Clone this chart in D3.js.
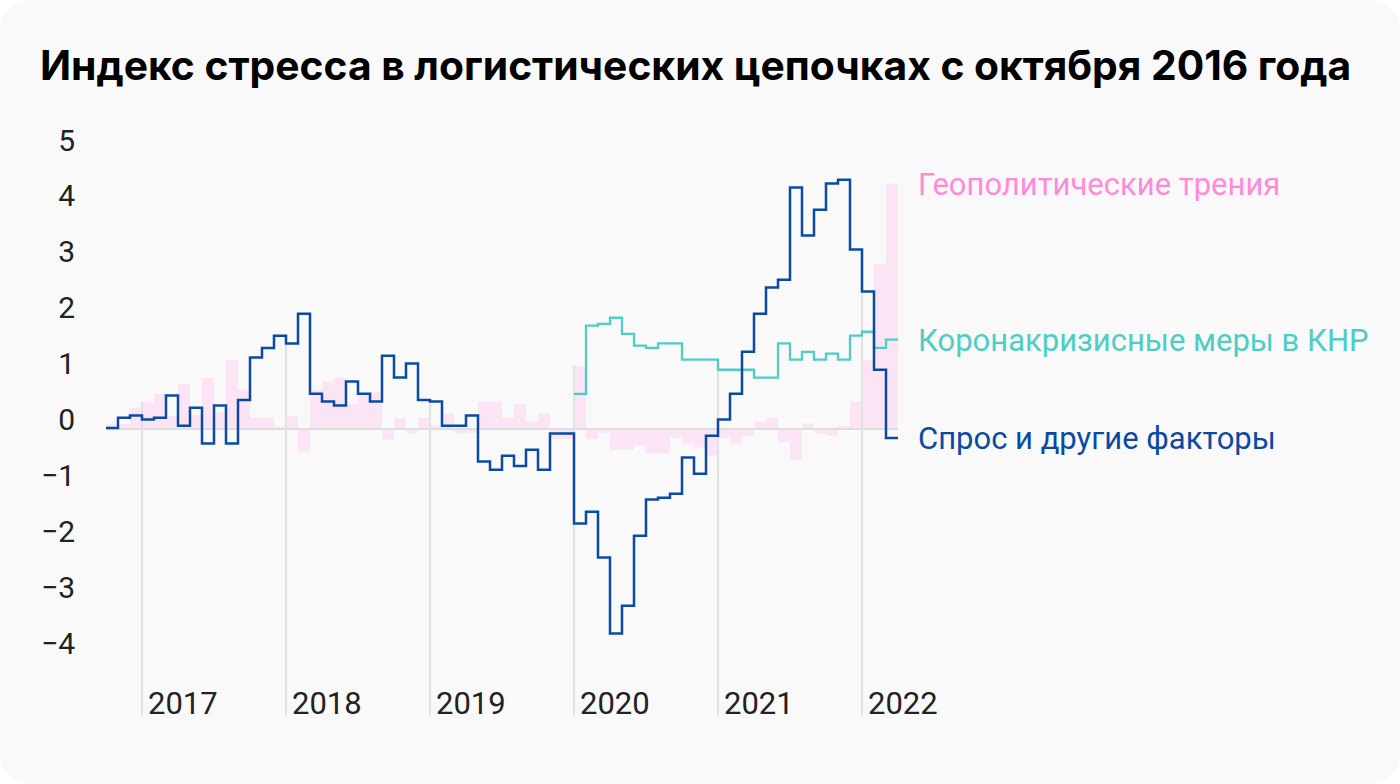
<!DOCTYPE html>
<html><head><meta charset="utf-8">
<script src="https://cdn.jsdelivr.net/npm/d3@7/dist/d3.min.js"></script>
<style>
html,body{margin:0;padding:0;background:#ffffff;}
svg{display:block;}
</style></head>
<body>
<svg id="chart" width="1400" height="784"></svg>
<script>
// ---- data (monthly, Oct 2016 .. Mar 2022) ----
const startMonth = "2016-10";
const yearTicks = ["2017","2018","2019","2020","2021","2022"];
const yTicks = [-4,-3,-2,-1,0,1,2,3,4,5];

const demand = [0.02,0.20,0.24,0.17,0.20,0.60,0.06,0.38,-0.26,0.42,-0.26,0.52,
  1.28,1.45,1.67,1.53,2.06,0.63,0.49,0.42,0.85,0.63,0.49,1.31,
  0.92,1.17,0.52,0.49,0.06,0.06,0.24,-0.58,-0.73,-0.48,-0.66,-0.37,
  -0.73,-0.08,-0.08,-1.69,-1.48,-2.30,-3.66,-3.16,-1.91,-1.26,-1.23,-1.16,
  -0.51,-0.80,-0.12,0.17,0.63,1.38,2.06,2.53,2.67,4.32,3.46,3.92,
  4.39,4.46,3.21,2.46,1.06,-0.16];

const covidStart = "2020-01";
const covid = [0.63,1.85,1.88,1.99,1.70,1.49,1.45,1.53,1.53,1.24,1.24,1.24,
  1.06,1.06,1.06,0.92,0.92,1.53,1.24,1.38,1.24,1.35,1.24,1.67,1.74,1.45,1.60];

const geo = [0.09,0.09,0.38,0.48,0.63,0.23,0.80,0.25,0.91,0.30,1.23,0.70,
  0.20,0.20,0.05,0.23,-0.40,0.70,0.85,0.92,0.45,0.60,0.67,-0.19,
  0.20,-0.08,0.20,0.06,0.27,-0.08,-0.07,0.49,0.49,0.20,0.45,0.13,
  0.27,-0.18,-0.18,1.13,-0.18,-0.07,-0.37,-0.37,-0.30,-0.44,-0.44,-0.16,
  -0.26,-0.33,-0.47,-0.16,-0.26,-0.12,0.13,0.20,-0.23,-0.55,0.10,-0.08,
  -0.12,0.06,0.49,1.24,2.96,4.39];

const seriesNames = ["Геополитические трения","Коронакризисные меры в КНР","Спрос и другие факторы"];
const title = "Индекс стресса в логистических цепочках с октября 2016 года";

// ---- helpers ----
function monthIndex(ym){
  const [y,m] = ym.split("-").map(Number);
  const [y0,m0] = startMonth.split("-").map(Number);
  return (y-y0)*12 + (m-m0);
}
const nMonths = demand.length;
const covidOffset = monthIndex(covidStart);

const svg = d3.select("#chart");
const W = 1400, H = 784;

svg.append("rect").attr("x",0).attr("y",0).attr("width",W).attr("height",H)
  .attr("rx",30).attr("ry",30).attr("fill","#f9f9f9");

const x = d3.scaleLinear().domain([0, nMonths]).range([106, 898]);
const y = d3.scaleLinear().domain([-4, 5]).range([652.6, 149.5]);

const FONT = "Roboto, 'Noto Sans', sans-serif";

// bars
svg.append("g").selectAll("rect").data(geo).join("rect")
  .attr("x",(d,i)=>x(i))
  .attr("width",(d,i)=>x(i+1)-x(i))
  .attr("y",d=>Math.min(y(d),y(0)))
  .attr("height",d=>Math.abs(y(d)-y(0)))
  .attr("fill","#fbe5f5");

// zero line
svg.append("line").attr("x1",x(0)).attr("x2",x(nMonths))
  .attr("y1",y(0)).attr("y2",y(0))
  .attr("stroke","#dedede").attr("stroke-width",2);

// year gridlines: from bottom up to highest mark of that month
const gridBottom = 716;
const yearIdx = yearTicks.map(t=>monthIndex(t+"-01"));
function maxAt(i){
  const vals=[demand[i], geo[i]];
  if(i>=covidOffset) vals.push(covid[i-covidOffset]);
  return Math.max(...vals);
}
svg.append("g").selectAll("line").data(yearIdx).join("line")
  .attr("x1",d=>x(d)).attr("x2",d=>x(d))
  .attr("y1",gridBottom).attr("y2",d=>y(maxAt(d)))
  .attr("stroke","#e2e2e2").attr("stroke-width",2);

// x labels
svg.append("g").selectAll("text").data(yearTicks).join("text")
  .attr("x",(d,i)=>x(yearIdx[i])+6).attr("y",714)
  .attr("font-family",FONT).attr("font-size",31).attr("fill","#222")
  .text(d=>d);

// y labels
const fmt = d3.format("d");
svg.append("g").selectAll("text").data(yTicks).join("text")
  .attr("x",75).attr("y",d=>y(d)+1)
  .attr("text-anchor","end")
  .attr("font-family",FONT).attr("font-size",30).attr("fill","#222")
  .text(d=>fmt(d));

// step lines
function stepPts(arr, off){
  const pts = arr.map((v,i)=>[i+off, v]);
  pts.push([arr.length+off, arr[arr.length-1]]);
  return pts;
}
const line = d3.line().x(d=>x(d[0])).y(d=>y(d[1])).curve(d3.curveStepAfter);

svg.append("path").attr("d",line(stepPts(covid,covidOffset)))
  .attr("fill","none").attr("stroke","#4fcdc5").attr("stroke-width",2.3);
svg.append("path").attr("d",line(stepPts(demand,0)))
  .attr("fill","none").attr("stroke","#0b4aa2").attr("stroke-width",2.5);

// series labels
const labelColors = ["#ff8ad9","#4fcdc5","#0b4aa2"];
const labelY = [195, 351, 449];
svg.append("g").selectAll("text").data(seriesNames).join("text")
  .attr("x",918).attr("y",(d,i)=>labelY[i])
  .attr("font-family",FONT).attr("font-size",31)
  .attr("fill",(d,i)=>labelColors[i])
  .text(d=>d);

// title
const t = svg.append("text").attr("x",40).attr("y",80)
  .attr("font-family","Inter, Roboto, sans-serif").attr("font-weight",700)
  .attr("font-size",36).attr("fill","#000").text(title);
const len = t.node().getComputedTextLength();
t.attr("font-size", 36*1312/len);
</script>
</body></html>
